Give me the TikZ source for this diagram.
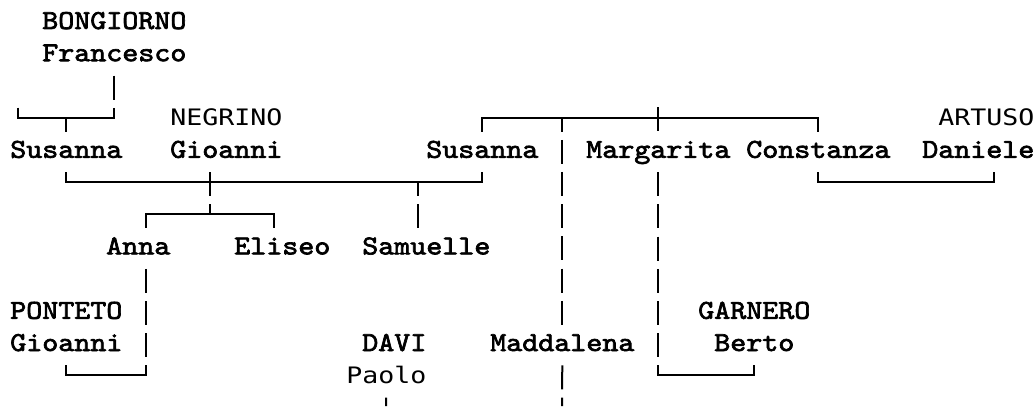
\documentclass[tikz,border=0pt]{standalone}
\usepackage{fontspec}
\usepackage{tikz}
\usetikzlibrary{positioning, calc}

\newfontfamily\serifmono[FakeStretch=1.116, FakeBold=2.5]{lmmono10-regular.otf}
\newfontfamily\sansmono[FakeStretch=1.173]{DejaVu Sans Mono}

\begin{document}
\begin{tikzpicture}[
  x=12pt, y=-24.15pt,
  pname/.style={anchor=west, inner sep=0pt, minimum height=24.15pt,
                text height=12pt, text depth=0pt,
                font=\fontsize{20.5pt}{24pt}\serifmono},
  pnamesf/.style={pname, font=\fontsize{17pt}{24pt}\sansmono},
  bar/.style={line width=1.5pt, line cap=rect},
  vl/.style={line width=1.5pt, dash pattern=on 18pt off 6.15pt, dash phase=#1},
  vl/.default=19.575pt,
  vlc/.style={vl=7.5pt}
]
\useasboundingbox (-0.625,-0.652) rectangle (64,11.957);

% people, one cell = one character
\node[pname] (bongiorno) at (2,0) {BONGIORNO};
\node[pname] (francesco) at (2,1) {Francesco};
\node[pnamesf] (negrino) at (10,3) {NEGRINO};
\node[pnamesf] (artuso) at (58,3) {ARTUSO};
\node[pname] (susannaA) at (0,4) {Susanna};
\node[pname] (gioanniN) at (10,4) {Gioanni};
\node[pname] (susannaB) at (26,4) {Susanna};
\node[pname] (margarita) at (36,4) {Margarita};
\node[pname] (constanza) at (46,4) {Constanza};
\node[pname] (daniele) at (57,4) {Daniele};
\node[pname] (anna) at (6,7) {Anna};
\node[pname] (eliseo) at (14,7) {Eliseo};
\node[pname] (samuelle) at (22,7) {Samuelle};
\node[pname] (ponteto) at (0,9) {PONTETO};
\node[pname] (garnero) at (43,9) {GARNERO};
\node[pname] (gioanniP) at (0,10) {Gioanni};
\node[pname] (davi) at (22,10) {DAVI};
\node[pname] (maddalena) at (30,10) {Maddalena};
\node[pname] (berto) at (44,10) {Berto};
\node[pnamesf] (paolo) at (21,11) {Paolo};

% rows of the bars
\coordinate (r3) at (0,3);
\coordinate (r5) at (0,5);
\coordinate (r6) at (0,6);
\coordinate (r11) at (0,11);

% off-centre drops and free ends
\coordinate (bgL) at (0.5,2.5);
\coordinate (mgP) at ([yshift=24.15pt]margarita.north);
\coordinate (gN) at ([xshift=-12pt]gioanniN.south);
\coordinate (anN) at ([xshift=6pt]anna.north);
\coordinate (anS) at ([xshift=6pt]anna.south);
\coordinate (elN) at ([xshift=-6pt]eliseo.north);
\coordinate (saN) at ([xshift=-6pt]samuelle.north);
\coordinate (daS) at ([xshift=12pt]daniele.south);
\coordinate (mdB) at (34.5,11.96);
\coordinate (paB) at (23.5,11.96);

% BONGIORNO
\draw[vl] (bgL) -- (bgL |- r3);
\draw[vl] (francesco.south) -- (francesco.south |- r3);
\draw[bar] (bgL |- r3) -- (francesco.south |- r3);
\draw[vlc] (susannaA.north |- r3) -- (susannaA.north);

% NEGRINO Gioanni
\draw[vl] (susannaA.south) -- (susannaA.south |- r5);
\draw[vl] (susannaB.south) -- (susannaB.south |- r5);
\draw[bar] (susannaA.south |- r5) -- (susannaB.south |- r5);
\draw[vl] (gN) -- (gN |- r6);
\draw[bar] (anN |- r6) -- (elN |- r6);
\draw[vlc] (anN |- r6) -- (anN);
\draw[vlc] (elN |- r6) -- (elN);
\draw[vlc] (saN |- r5) -- (saN);

% Anna + PONTETO
\draw[vl] (anS) -- (anS |- r11);
\draw[vl] (gioanniP.south) -- (gioanniP.south |- r11);
\draw[bar] (gioanniP.south |- r11) -- (anS |- r11);

% Susanna's siblings
\draw[bar] (susannaB.north |- r3) -- (constanza.north |- r3);
\draw[vlc] (susannaB.north |- r3) -- (susannaB.north);
\draw[vlc] (constanza.north |- r3) -- (constanza.north);
\draw[vl] (mgP) -- (margarita.north);
\draw[vlc] (maddalena.north |- r3) -- (maddalena.north);
\draw[vl] (maddalena.south) -- (mdB);

% Margarita + GARNERO
\draw[vl] (margarita.south) -- (margarita.south |- r11);
\draw[vl] (berto.south) -- (berto.south |- r11);
\draw[bar] (margarita.south |- r11) -- (berto.south |- r11);

% Constanza + ARTUSO
\draw[vl] (constanza.south) -- (constanza.south |- r5);
\draw[vl] (daS) -- (daS |- r5);
\draw[bar] (constanza.south |- r5) -- (daS |- r5);

% DAVI
\draw[vl] (paolo.south) -- (paB);
\end{tikzpicture}
\end{document}
